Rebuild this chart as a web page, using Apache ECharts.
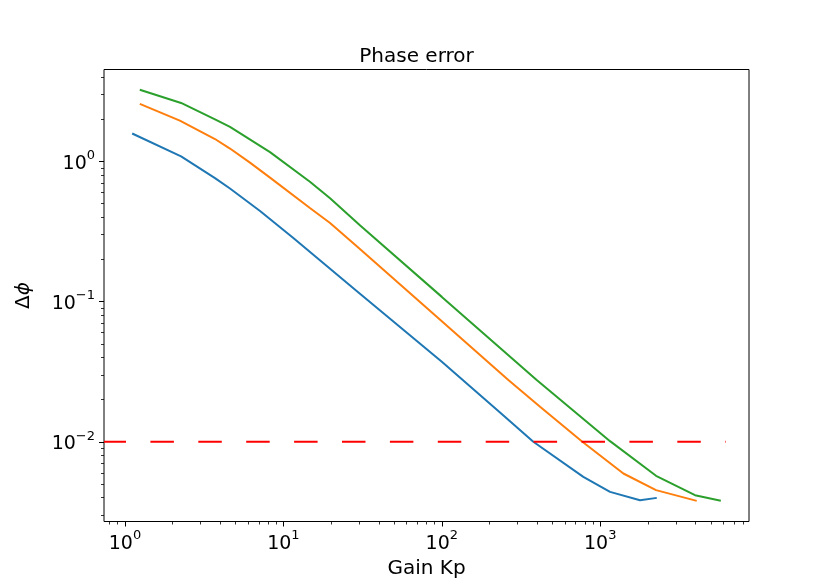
<!DOCTYPE html>
<html>
<head>
<meta charset="utf-8">
<script src="https://cdn.jsdelivr.net/npm/echarts@6/dist/echarts.min.js"></script>
<style>
  html, body { margin: 0; padding: 0; background: #fff; }
  #main { width: 833px; height: 586px; }
</style>
</head>
<body>
<div id="main"></div>
<script>
// 三条曲线的数据
var kpBlue = [1.11, 2.26, 3.7, 4.6, 7.12, 11.55, 29.0, 100, 233, 378, 782, 1153, 1783, 2275];
var phiBlue = [1.58, 1.086, 0.760, 0.640, 0.443, 0.284, 0.119, 0.0372, 0.0162, 0.0100, 0.00562, 0.00439, 0.00383, 0.00398];

var kpOrange = [1.24, 2.22, 3.7, 4.6, 6.15, 8.23, 14.7, 19.7, 30.4, 100, 263, 417, 764, 1400, 2250, 4065];
var phiOrange = [2.57, 1.95, 1.443, 1.234, 0.979, 0.765, 0.465, 0.363, 0.237, 0.0723, 0.0276, 0.0178, 0.0101, 0.00594, 0.00452, 0.00379];

var kpGreen = [1.24, 2.26, 3.7, 4.6, 8.23, 14.7, 19.7, 30.4, 100, 397, 1153, 2250, 3965, 5770];
var phiGreen = [3.24, 2.61, 1.99, 1.76, 1.164, 0.716, 0.546, 0.35, 0.108, 0.0276, 0.0101, 0.00572, 0.00416, 0.00379];

// 红色虚线阈值
var limitKp = [0.737, 6200];
var limitPhi = 0.01;

// 坐标轴范围与刻度
var xRange = [0.737, 8690];
var yRange = [0.0027, 4.52];
var xMajor = [1, 10, 100, 1000];
var xMinor = [0.8, 0.9, 2, 3, 4, 5, 6, 7, 8, 9, 20, 30, 40, 50, 60, 70, 80, 90,
              200, 300, 400, 500, 600, 700, 800, 900, 2000, 3000, 4000, 5000, 6000, 7000, 8000];
var yMajor = [0.01, 0.1, 1];
var yMinor = [0.003, 0.004, 0.005, 0.006, 0.007, 0.008, 0.009,
              0.02, 0.03, 0.04, 0.05, 0.06, 0.07, 0.08, 0.09,
              0.2, 0.3, 0.4, 0.5, 0.6, 0.7, 0.8, 0.9, 2, 3, 4];

function pairs(xs, ys) {
    return xs.map(function (x, i) { return [x, ys[i]]; });
}

// 10 的幂次标签，指数用富文本上标
function powLabel(v) {
    var e = Math.round(Math.log10(v));
    return '{b|10}{s|' + String(e).replace('-', '−') + '}';
}

var font = 'DejaVu Sans';
var labelRich = {
    b: { fontFamily: font, fontSize: 19, color: '#000', verticalAlign: 'bottom', lineHeight: 24 },
    s: { fontFamily: font, fontSize: 13, color: '#000', verticalAlign: 'top', lineHeight: 24 }
};

var myChart = echarts.init(document.getElementById('main'), null, { renderer: 'canvas' });

var option = {
    animation: false,
    backgroundColor: '#fff',
    title: {
        text: 'Phase error',
        left: 'center',
        top: 42,
        textStyle: { fontFamily: font, fontSize: 20, fontWeight: 'normal', color: '#000' }
    },
    grid: {
        left: 104, top: 69.5, width: 645, height: 452,
        show: true, borderColor: '#000', borderWidth: 1, backgroundColor: 'transparent'
    },
    xAxis: [{
        type: 'log', min: xRange[0], max: xRange[1], position: 'bottom',
        name: 'Gain Kp', nameLocation: 'middle', nameGap: 33,
        nameTextStyle: { fontFamily: font, fontSize: 20, color: '#000' },
        axisLine: { show: false },
        splitLine: { show: false },
        axisTick: { show: true, length: 5, customValues: xMajor,
                    lineStyle: { color: '#000', width: 1 } },
        axisLabel: { customValues: xMajor, margin: 8, formatter: powLabel, rich: labelRich }
    }, {
        // 次刻度
        type: 'log', min: xRange[0], max: xRange[1], position: 'bottom', offset: 0,
        axisLine: { show: false },
        splitLine: { show: false },
        axisTick: { show: true, length: 3, customValues: xMinor,
                    lineStyle: { color: '#000', width: 0.8 } },
        axisLabel: { show: false }
    }],
    yAxis: [{
        type: 'log', min: yRange[0], max: yRange[1], position: 'left',
        name: '{a|Δ}{b|ϕ}', nameLocation: 'middle', nameGap: 70, nameRotate: 90,
        nameTextStyle: {
            rich: {
                a: { fontFamily: font, fontSize: 20, color: '#000' },
                b: { fontFamily: font, fontSize: 20, color: '#000', fontStyle: 'italic' }
            }
        },
        axisLine: { show: false },
        splitLine: { show: false },
        axisTick: { show: true, length: 5, customValues: yMajor,
                    lineStyle: { color: '#000', width: 1 } },
        axisLabel: { customValues: yMajor, margin: 9, formatter: powLabel, rich: labelRich }
    }, {
        // 次刻度
        type: 'log', min: yRange[0], max: yRange[1], position: 'left', offset: 0,
        axisLine: { show: false },
        splitLine: { show: false },
        axisTick: { show: true, length: 3, customValues: yMinor,
                    lineStyle: { color: '#000', width: 0.8 } },
        axisLabel: { show: false }
    }],
    series: [{
        type: 'line', data: pairs(kpBlue, phiBlue), showSymbol: false,
        lineStyle: { color: '#1f77b4', width: 2 }
    }, {
        type: 'line', data: pairs(kpOrange, phiOrange), showSymbol: false,
        lineStyle: { color: '#ff7f0e', width: 2 }
    }, {
        type: 'line', data: pairs(kpGreen, phiGreen), showSymbol: false,
        lineStyle: { color: '#2ca02c', width: 2 }
    }, {
        type: 'line', data: pairs(limitKp, [limitPhi, limitPhi]), showSymbol: false,
        lineStyle: { color: '#ff0000', width: 2, type: [23.5, 24.4], dashOffset: 1.5 }
    }]
};

myChart.setOption(option);
</script>
</body>
</html>
